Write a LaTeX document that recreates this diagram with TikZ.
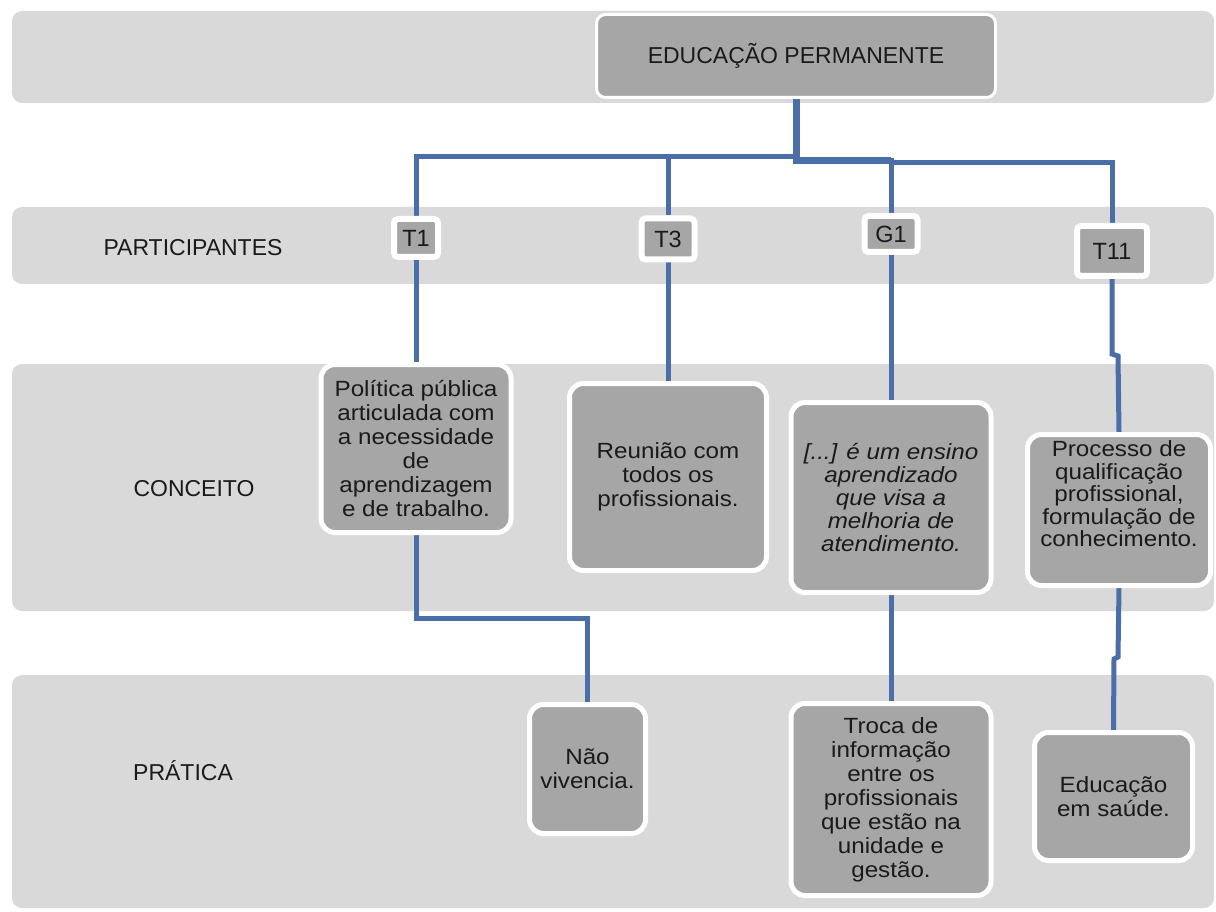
\documentclass[tikz,border=0pt]{standalone}
\usepackage{fontspec}
\setmainfont{Liberation Sans}
\newfontfamily\boxfont{Liberation Sans}[FakeStretch=1.1]
\definecolor{bandgray}{HTML}{D9D9D9}
\definecolor{boxgray}{HTML}{A6A6A6}
\definecolor{linkblue}{HTML}{4A6EA8}
\definecolor{ink}{HTML}{1A1A1A}
\pgfdeclarelayer{bg}
\pgfdeclarelayer{lines}
\pgfsetlayers{bg,lines,main}
\begin{document}
\begin{tikzpicture}[x=1pt,y=-1pt,
  bandbox/.style={fill=bandgray, rounded corners=10pt},
  card/.style={fill=boxgray, draw=white, line width=5pt, rounded corners=14pt,
    align=center, inner sep=0pt, text=ink, font=\boxfont\fontsize{22}{24}\selectfont},
  tag/.style={fill=boxgray, draw=white, line width=6pt, rounded corners=4pt,
    inner sep=0pt, text=ink, font=\fontsize{23.5}{25}\selectfont},
  rowlabel/.style={anchor=base, inner sep=0pt, text=ink, font=\fontsize{23}{26}\selectfont},
  conn/.style={draw=linkblue, line width=5pt},
]
\useasboundingbox (0,0) rectangle (1216,912);
\begin{pgfonlayer}{bg}
  \fill[white] (0,0) rectangle (1216,912);
  \fill[bandbox] (12,11) rectangle (1214,103);
  \fill[bandbox] (12,207) rectangle (1214,284);
  \fill[bandbox] (12,364) rectangle (1214,611);
  \fill[bandbox] (12,675) rectangle (1214,908);
\end{pgfonlayer}

% row labels
\node[rowlabel] (lp) at (193,255) {PARTICIPANTES};
\node[rowlabel] (lc) at (194,496) {CONCEITO};
\node[rowlabel] (lr) at (183,780) {PRÁTICA};

% top
\node[card, line width=3pt, rounded corners=9pt, minimum width=399, minimum height=83,
  font=\fontsize{23}{26}\selectfont] (top) at (796,56) {EDUCAÇÃO PERMANENTE};

% participants
\node[tag, minimum width=44, minimum height=38] (t1) at (416,238) {T1};
\node[tag, minimum width=53, minimum height=41] (t3) at (668,239) {T3};
\node[tag, minimum width=53, minimum height=36] (g1) at (891,234) {G1};
\node[tag, minimum width=70, minimum height=50] (t11) at (1112,251) {T11};

% concepts
\node[card, minimum width=190, minimum height=168] (c1) at (416,448.5)
  {Política pública\\articulada com\\a necessidade\\de\\aprendizagem\\e de trabalho.};
\node[card, minimum width=197, minimum height=187] (c2) at (668,477)
  {Reunião com\\todos os\\profissionais.};
\node[card, minimum width=200, minimum height=190, font=\boxfont\itshape\fontsize{22}{23}\selectfont] (c3) at (891,497.5)
  {[...] é um ensino\\aprendizado\\que visa a\\melhoria de\\atendimento.};
\node[card, minimum width=183, minimum height=151] (c4) at (1119,510) {};
\node[align=center, inner sep=0pt, text=ink, font=\boxfont\fontsize{22}{22.5}\selectfont] (c4t) at (1119,494)
  {Processo de\\qualificação\\profissional,\\formulação de\\conhecimento.};

% practice
\node[card, minimum width=116, minimum height=129] (p1) at (587.5,769) {Não\\vivencia.};
\node[card, minimum width=200, minimum height=192] (p3) at (891,799.5)
  {Troca de\\informação\\entre os\\profissionais\\que estão na\\unidade e\\gestão.};
\node[card, minimum width=158, minimum height=128] (p4) at (1113.5,796.5) {Educação\\em saúde.};

% connectors
\coordinate (busl) at (796,157);
\coordinate (busr) at (796,161);
\coordinate (k1) at (416,618);
\coordinate (ja) at (1112,354);
\coordinate (jb) at (1118,356);
\coordinate (jc) at (1118,657);
\coordinate (jd) at (1114,659);
\begin{pgfonlayer}{lines}
  \draw[conn, line width=7pt] (top.south) -- (busr) -- (busr -| g1.north);
  \draw[conn] (busl) -| (t1.north);
  \draw[conn] (busl) -| (t3.north);
  \draw[conn] (busr) -| (g1.north);
  \draw[conn] (busr -| g1.north) -- ++(0,2) -| (t11.north);
  \draw[conn] (t1.south) -- (c1.north);
  \draw[conn] (t3.south) -- (c2.north);
  \draw[conn] (g1.south) -- (c3.north);
  \draw[conn] (t11.south) -- (ja) -- (jb) -- (c4.north);
  \draw[conn] (c1.south) -- (k1) -| (p1.north);
  \draw[conn] (c3.south) -- (p3.north);
  \draw[conn] (c4.south) -- (jc) -- (jd) -- (p4.north);
\end{pgfonlayer}
\end{tikzpicture}
\end{document}
